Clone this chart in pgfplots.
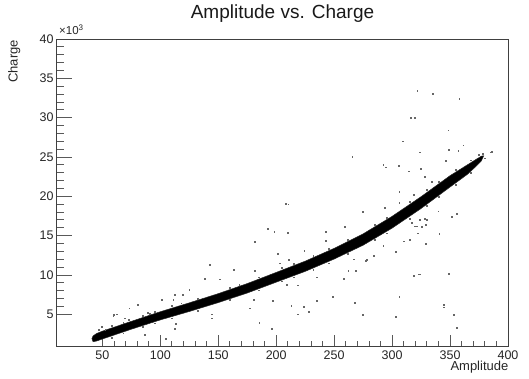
\documentclass[border=0pt]{standalone}
\usepackage{pgfplots}
\pgfplotsset{compat=1.18}
\usepackage{fontspec}
\setmainfont{Liberation Sans}
\begin{document}
\begin{tikzpicture}[x=1pt,y=1pt]
\path[use as bounding box] (0,0) rectangle (529,379);
\begin{axis}[
  at={(56pt,32.5pt)}, anchor=south west,
  scale only axis, width=452pt, height=307.5pt,
  xmin=10, xmax=400, ymin=900, ymax=40000,
  xtick={50,100,...,400}, minor x tick num=4,
  ytick={5000,10000,...,40000}, yticklabels={5,10,15,20,25,30,35,40},
  minor y tick num=4,
  scaled y ticks=false,
  tick pos=left, tick align=inside,
  major tick length=11pt, minor tick length=5.5pt,
  y tick style={/pgfplots/major tick length=16pt,/pgfplots/minor tick length=8pt},
  axis line style={black!75, line width=0.8pt},
  every tick/.style={black!65, line width=0.8pt},
  /pgf/number format/assume math mode=true,
  ticklabel style={font=\fontsize{12.5}{15}\selectfont, text=black!85},
  xticklabel style={yshift=-1pt},
  yticklabel style={xshift=1pt},
  clip=true,
]
% dense band (outline of the black band)
\addplot[fill=black, draw=black!85, line width=0.5pt] coordinates {
 (41,1900) (42,2250) (45,2550) (50,2850) (75,4100) (100,5320) (125,6450)
 (150,7620) (175,8900) (200,10320) (225,11750) (250,13380) (275,15220)
 (300,17450) (325,19950) (350,22620) (365,24000) (372,24650) (377,25100) (379,25150)
 (377,24500) (372,23750) (365,22800) (350,21180) (325,18450) (300,15950)
 (275,13780) (250,12020) (225,10450) (200,9080) (175,7700) (150,6480)
 (125,5350) (100,4280) (75,3100) (50,1850) (45,1600) (42,1500)
} -- cycle;
% fuzzy edges of the band
\addplot[only marks, mark=square*, mark size=0.4pt, black!60] coordinates {
 (58,3500) (58,2050) (68,3950) (68,2600) (85,4850) (85,3400) (95,5300) (95,3850)
 (110,6050) (110,4500) (118,6400) (132,7000) (132,5450) (160,8400) (160,6800)
 (168,8800) (185,9700) (185,8050) (205,10900) (205,9200) (215,11400) (215,9700)
 (232,12450) (232,10700) (245,13300) (245,11500) (262,14500) (262,12700)
 (285,16400) (285,14500) (295,17300) (295,15300) (315,19300) (315,17200)
 (330,20800) (330,18800) (340,21900) (340,19900) (355,23400) (355,21500)
 (368,24600) (368,23000) (375,25300)
};
% outliers
\addplot[only marks, mark=square*, mark size=0.4pt, black!60] coordinates {
 (142.9,11270) (138,9500) (125,8100) (112.7,7450) (119.3,7450) (100.9,6900)
 (80.5,6200) (73.2,5760) (59.4,4780) (111.2,6800) (144.6,4500) (144.6,5000)
 (113.5,3760) (112.4,3200) (86.8,2360) (104.9,1940) (52.5,3000) (60.1,4900)
 (62.4,5000) (49.5,3400) (46.6,3000) (88.8,5200) (91.1,5100) (69.5,4500) (72.4,4300)
 (208.4,19100) (210.4,19000) (192.6,15900) (198.3,15500) (209.6,15400) (181.4,14200)
 (274.3,18000) (259.4,16100) (242.7,15500) (243,14400) (201.3,12700) (163,10700)
 (151.5,9450) (181.1,10500) (210.7,11900) (224.2,13100) (203.3,11500) (234.9,9700)
 (218.2,8700) (209,8800) (257.9,9500) (262.2,10500) (268.5,10500) (278,11900)
 (248.8,7240) (268,6500) (274.3,4900) (213,6050) (223.4,5970) (227.7,5300)
 (218.3,5000) (185.4,3930) (196.1,3170) (177.4,5760) (197,6700) (180.8,6800) (234.9,6700)
 (321.7,33400) (335,33000) (357.9,32400) (316,30000) (319.5,30000) (348.4,28400)
 (308.8,27000) (361.4,26500) (265.6,25050) (323.5,25600) (348.5,25900) (357.1,25800)
 (385.9,25700) (346.5,24500) (292.4,24000) (294.7,23700) (305.4,23900) (314,23200)
 (325,23500) (327.9,22500) (306.2,20600) (318.3,20200) (339.8,18100) (355.7,17800)
 (351.4,17400) (340.7,15200) (329.2,14000) (315.4,14500) (309.7,14300) (303.4,12960)
 (292.4,13700) (283.8,12400) (277.5,11800) (267.1,12000) (322.6,10100) (324,10100)
 (318.3,9900) (348.5,10200) (306.2,7240) (303.4,4700) (344.2,6200) (344.8,5900)
 (353.3,4900) (355.7,3300) (323.9,17000) (319.6,16200) (322.4,15300) (328.2,17100)
 (378.2,25400) (385.3,25600) (380.1,24850) (306.2,19200) (293.9,18500) (329.8,17000)
 (329.2,16400) (316.9,16600) (321.2,16200) (325.5,16100) (334.1,21900)
};
\end{axis}
\node[anchor=base, font=\fontsize{19}{22}\selectfont, text=black!90] at (282.5,360) {Amplitude vs. Charge};
\node[anchor=base east, font=\fontsize{13}{15}\selectfont, text=black!85, inner sep=0pt] at (508.5,8) {Amplitude};
\node[anchor=base east, rotate=90, font=\fontsize{13}{15}\selectfont, text=black!85, inner sep=0pt] at (17.5,339) {Charge};
\node[anchor=base west, font=\fontsize{11.5}{13}\selectfont, text=black!85, inner sep=0pt] at (59,344) {×10\textsuperscript{3}};
\end{tikzpicture}
\end{document}
